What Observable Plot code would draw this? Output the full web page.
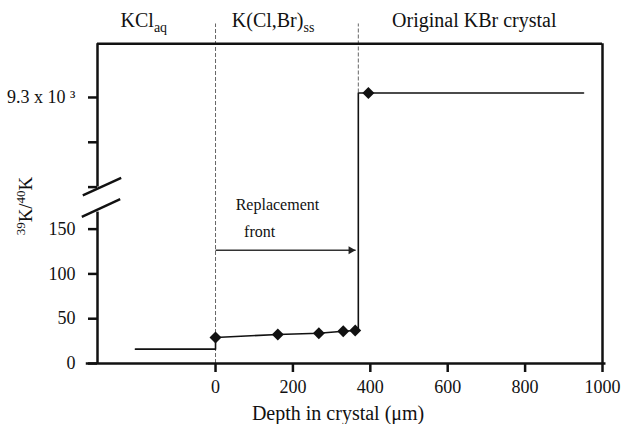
<!DOCTYPE html>
<html><head><meta charset="utf-8">
<script src="https://cdn.jsdelivr.net/npm/d3@7"></script>
<script src="https://cdn.jsdelivr.net/npm/@observablehq/plot@0.6"></script>
<style>body{margin:0;background:#fff} svg{display:block}</style>
</head><body><div id="chart"></div>
<script>
// ---- data ----
const pointDepth = [0, 161, 267, 330, 361, 395];
const pointRatio = [29, 32.4, 33.8, 36, 36.8, 9305];
const profileDepth = [-207, 0, 0, 161, 267, 330, 361, 369, 369, 951];
const profileRatio = [16, 16, 29, 32.4, 33.8, 36, 36.8, 37, 9305, 9305];
const boundaryDepth = [0, 369];
const boundaryLow = [0, 9305];
const boundaryTop = 9382;
const zoneNames = ["KCl", "K(Cl,Br)", "Original KBr crystal"];
const zoneSubs = ["aq", "ss", ""];
const zoneCenters = [-184, 150, 670];
const xTicks = [0, 200, 400, 600, 800, 1000];
const lowerTicks = [0, 50, 100, 150];
const upperTicks = [9200, 9250];
const upperLabelTick = [9300];
const frontStart = 0, frontEnd = 362, frontLevel = 126.5;
const frontText = ["Replacement", "front"];
const frontTextX = [160, 114];
const xDomain = [-305, 1000];
const yDomain = [0, 169, 9200, 9360];   // broken axis: 0–169 then 9200–9360
const xAxisSpan = [-334, 1009];

const serif = "'Liberation Serif','Times New Roman',serif";
const ink = "#111";

function decorations(index, scales, values, dims) {
  const g = d3.create("svg:g").attr("font-family", serif).attr("fill", ink);
  const ax = scales.x(xDomain[0]);
  // axis break slashes
  const cu = scales.y(yDomain[2]), cl = scales.y(yDomain[1]) - 3.6;
  for (const [cx, cy] of [[ax + 5, cu], [ax + 4, cl]]) {
    g.append("line").attr("x1", cx - 19.2).attr("y1", cy + 8.8)
      .attr("x2", cx + 19.2).attr("y2", cy - 8.8)
      .attr("stroke", ink).attr("stroke-width", 2.4);
  }
  // zone headers
  zoneNames.forEach((n, i) => {
    const t = g.append("text").attr("x", scales.x(zoneCenters[i]))
      .attr("y", dims.marginTop - 16).attr("text-anchor", "middle").attr("font-size", 20);
    t.append("tspan").text(n);
    if (zoneSubs[i]) t.append("tspan").attr("font-size", 14).attr("dy", 5).text(zoneSubs[i]);
  });
  // y label
  const yl = g.append("text").attr("transform", `translate(${dims.marginLeft - 65},206) rotate(-90)`)
    .attr("text-anchor", "middle").attr("font-size", 19);
  yl.append("tspan").attr("font-size", 13).attr("dy", -7).text("39");
  yl.append("tspan").attr("dy", 7).text("K/");
  yl.append("tspan").attr("font-size", 13).attr("dy", -7).text("40");
  yl.append("tspan").attr("dy", 7).text("K");
  // x label
  g.append("text").attr("x", scales.x(318)).attr("y", dims.height - 4)
    .attr("text-anchor", "middle").attr("font-size", 20).text("Depth in crystal (\u03bcm)");
  return g.node();
}

const chart = Plot.plot({
  width: 621, height: 424,
  marginLeft: 97, marginRight: 19, marginTop: 43, marginBottom: 61,
  style: {fontFamily: serif, color: ink, background: "#fff"},
  x: {domain: xDomain, axis: null},
  y: {type: "linear", domain: yDomain, range: [363, 211.6, 186.6, 43.2], axis: null},
  marks: [
    // boundaries of the zones
    Plot.ruleX(boundaryDepth, {x: d => d, y1: (d, i) => boundaryLow[i], y2: boundaryTop,
      stroke: "#666", strokeWidth: 1, strokeDasharray: "4,2"}),
    // frame: top and right
    Plot.ruleY([yDomain[3]], {x1: xDomain[0], x2: xDomain[1], stroke: ink, strokeWidth: 2.5}),
    Plot.ruleX([xDomain[1]], {y1: 0, y2: yDomain[3], stroke: ink, strokeWidth: 2.5}),
    // left axis (broken)
    Plot.ruleX([[0, yDomain[1]], [yDomain[2], yDomain[3]]], {x: xDomain[0], y1: d => d[0], y2: d => d[1], stroke: ink, strokeWidth: 2.5}),
    // bottom axis line
    Plot.ruleY([0], {x1: xAxisSpan[0], x2: xAxisSpan[1], stroke: ink, strokeWidth: 2.5}),
    Plot.axisX({ticks: xTicks, tickFormat: d => String(d), anchor: "bottom", tickSize: 9, tickPadding: 8, fontSize: 18, strokeWidth: 2.5, label: null, fill: ink}),
    Plot.axisY({ticks: lowerTicks, anchor: "left", tickSize: 9, tickPadding: 13, fontSize: 18, strokeWidth: 2.5, label: null, fill: ink}),
    Plot.axisY({ticks: upperTicks, anchor: "left", tickSize: 9, tickFormat: () => "", strokeWidth: 2.5, label: null}),
    Plot.axisY({ticks: upperLabelTick, anchor: "left", tickSize: 9, tickPadding: 13, fontSize: 18, strokeWidth: 2.5,
      tickFormat: () => "9.3 x 10 \u00b3", label: null, fill: ink}),
    // profile
    Plot.line(profileDepth, {x: d => d, y: (d, i) => profileRatio[i], stroke: ink, strokeWidth: 1.6}),
    Plot.dot(pointDepth, {x: d => d, y: (d, i) => pointRatio[i], symbol: "diamond2", r: 5.4, fill: ink, stroke: "none"}),
    // replacement front arrow
    Plot.link([frontStart], {x1: frontStart, x2: frontEnd, y1: frontLevel, y2: frontLevel, stroke: "#333", strokeWidth: 1.5}),
    Plot.dot([frontEnd], {x: d => d, y: frontLevel, symbol: "triangle", rotate: 90, r: 3, dx: -4.7, fill: "#222", stroke: "none"}),
    Plot.text(frontText, {x: (d, i) => frontTextX[i], y: frontLevel, text: d => d, fontSize: 16, fill: ink}),
    decorations
  ]
});
// vertical offsets for the two annotation lines
d3.select(chart).selectAll("text").filter(function() { return this.textContent === "Replacement"; }).attr("dy", "-45px");
d3.select(chart).selectAll("text").filter(function() { return this.textContent === "front"; }).attr("dy", "-18.5px");
document.getElementById("chart").append(chart);
</script>
</body></html>
